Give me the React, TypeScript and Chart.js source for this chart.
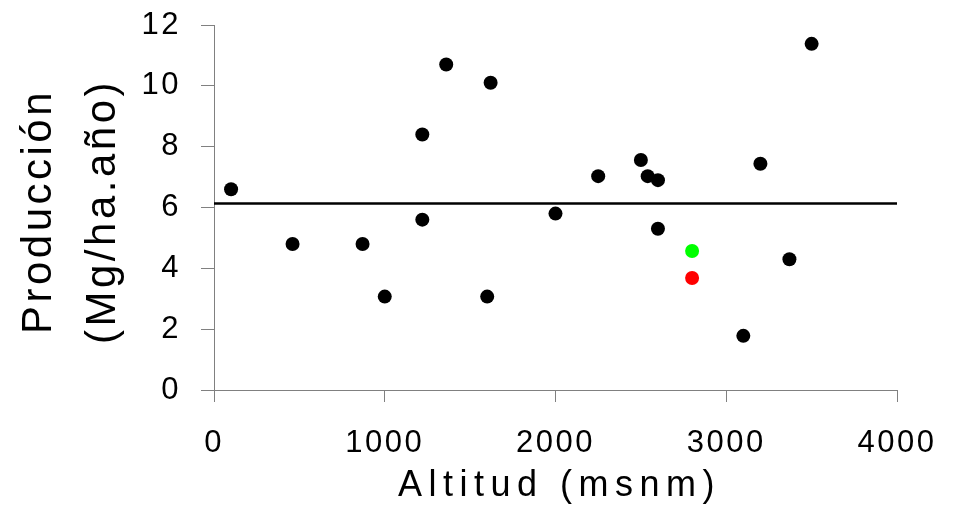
import React, { useEffect, useRef } from "react";
import { Chart, registerables } from "chart.js";

Chart.register(...registerables);

const altitudes = [100, 460, 870, 1000, 1220, 1220, 1360, 1600, 1620, 2000, 2250, 2500, 2540, 2600, 2600, 3100, 3200, 3370, 3500];
const production = [6.6, 4.8, 4.8, 3.07, 8.4, 5.6, 10.7, 3.07, 10.1, 5.8, 7.03, 7.56, 7.03, 6.9, 5.3, 1.78, 7.44, 4.3, 11.38];
const greenPoint = { x: 2800, y: 4.57 };
const redPoint = { x: 2800, y: 3.68 };
const meanX = [0, 4000];
const meanY = [6.13, 6.13];
const xTitle = "Altitud (msnm)";
const yTitleLines = ["Producción", "(Mg/ha.año)"];

const FONT = '"Liberation Sans", Arial, sans-serif';

const titlePlugin = {
  id: "customTitles",
  beforeDraw(chart: any) {
    chart.ctx.letterSpacing = "2.5px";
  },
  afterDraw(chart: any) {
    const { ctx, chartArea } = chart;
    ctx.save();
    ctx.fillStyle = "#000";
    ctx.textAlign = "center";
    ctx.textBaseline = "alphabetic";
    // x title
    ctx.font = `36px ${FONT}`;
    ctx.letterSpacing = "6.5px";
    const cx = (chartArea.left + chartArea.right) / 2 + 4;
    ctx.fillText(xTitle, cx, chartArea.bottom + 106);
    // y title
    ctx.font = `42px ${FONT}`;
    ctx.letterSpacing = "3.5px";
    const cy = (chartArea.top + chartArea.bottom) / 2 + 4;
    const baselines = [51, 115];
    yTitleLines.forEach((t, i) => {
      ctx.save();
      ctx.translate(baselines[i], cy);
      ctx.rotate(-Math.PI / 2);
      ctx.fillText(t, 0, 0);
      ctx.restore();
    });
    ctx.restore();
  },
};

export default function App() {
  const ref = useRef<HTMLCanvasElement>(null);
  useEffect(() => {
    document.body.style.margin = "0";
    const canvas = ref.current!;
    const chart = new Chart(canvas, {
      type: "scatter",
      data: {
        datasets: [
          {
            type: "scatter",
            data: altitudes.map((x, i) => ({ x, y: production[i] })),
            backgroundColor: "#000000",
            borderWidth: 0,
            pointRadius: 7,
            order: 1,
          },
          {
            type: "scatter",
            data: [greenPoint],
            backgroundColor: "#00ff00",
            borderWidth: 0,
            pointRadius: 7,
            order: 1,
          },
          {
            type: "scatter",
            data: [redPoint],
            backgroundColor: "#ff0000",
            borderWidth: 0,
            pointRadius: 7,
            order: 1,
          },
          {
            type: "line",
            data: meanX.map((x, i) => ({ x, y: meanY[i] })),
            borderColor: "#000000",
            borderWidth: 2.5,
            pointRadius: 0,
            showLine: true,
            fill: false,
            order: 2,
          } as any,
        ],
      },
      options: {
        animation: false,
        responsive: true,
        maintainAspectRatio: false,
        layout: { padding: { left: 0, top: 25, right: 57, bottom: 0 } },
        plugins: { legend: { display: false }, tooltip: { enabled: false }, title: { display: false } },
        scales: {
          x: {
            type: "linear",
            min: 0,
            max: 4000,
            ticks: {
              stepSize: 1000,
              color: "#000",
              font: { family: FONT, size: 31 },
              padding: 23,
              maxRotation: 0,
              callback: (v: any) => String(v),
            },
            grid: { drawOnChartArea: false, drawTicks: true, tickLength: 12, color: "#808080", lineWidth: 1 },
            border: { display: true, color: "#808080", width: 1 },
            afterFit: (s: any) => {
              s.height = 124;
              s.paddingLeft = 0;
              s.paddingRight = 0;
            },
          },
          y: {
            type: "linear",
            min: 0,
            max: 12,
            ticks: {
              stepSize: 2,
              color: "#000",
              font: { family: FONT, size: 31 },
              padding: 20,
              callback: (v: any) => String(v),
            },
            grid: { drawOnChartArea: false, drawTicks: true, tickLength: 13, color: "#808080", lineWidth: 1 },
            border: { display: true, color: "#808080", width: 1 },
            afterFit: (s: any) => {
              s.width = 214;
              s.paddingTop = 0;
              s.paddingBottom = 0;
            },
          },
        },
      },
      plugins: [titlePlugin],
    });
    return () => chart.destroy();
  }, []);
  return (
    <div style={{ width: 954, height: 514, position: "relative", background: "#fff" }}>
      <canvas ref={ref} />
    </div>
  );
}
